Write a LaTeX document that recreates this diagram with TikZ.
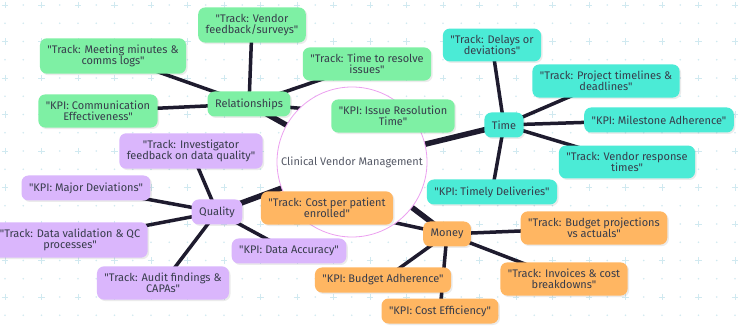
\documentclass[tikz,border=0pt]{standalone}
\usepackage{fontspec}
\setmainfont{Fira Sans}[Ligatures=TeXOff]
\usetikzlibrary{shadows}
\pgfdeclarelayer{gridlayer}
\pgfdeclarelayer{edgelayer}
\pgfsetlayers{gridlayer,edgelayer,main}
\definecolor{relc}{RGB}{126,240,164}
\definecolor{timec}{RGB}{75,235,214}
\definecolor{qualc}{RGB}{218,182,252}
\definecolor{monc}{RGB}{255,182,98}
\definecolor{edgec}{RGB}{30,27,46}
\definecolor{txtc}{RGB}{55,60,75}
\definecolor{gridc}{RGB}{208,233,240}
\definecolor{rootc}{RGB}{236,160,240}
\begin{document}
\begin{tikzpicture}[x=1pt,y=-1pt,
  box/.style={rounded corners=7pt, align=center, font=\fontsize{11}{11.5}\selectfont,
    text=txtc, inner xsep=7.5pt, inner ysep=6.5pt, minimum height=25pt,
    drop shadow={shadow xshift=1.5pt, shadow yshift=-1.5pt, fill=black, opacity=0.08}},
  rel/.style={box, fill=relc},
  tim/.style={box, fill=timec},
  qua/.style={box, fill=qualc},
  mon/.style={box, fill=monc},
  link/.style={draw=edgec, line width=3.5pt},
  trunk/.style={draw=edgec, line width=5.5pt},
  rootnode/.style={circle, draw=rootc, line width=0.8pt, fill=white, minimum size=150pt,
    font=\fontsize{11}{12}\selectfont, text=txtc!85}]
\useasboundingbox (0,0) rectangle (743,328);
% grid
\begin{pgfonlayer}{gridlayer}
\fill[white] (0,0) rectangle (743,328);
\foreach \i in {0,...,40}{
  \foreach \j in {0,...,17}{
    \pgfmathsetmacro{\gx}{5+18.25*\i}
    \pgfmathsetmacro{\gy}{5+18.25*\j}
    \pgfmathtruncatemacro{\odd}{mod(\i,2)+mod(\j,2)}
    \ifnum\odd=0
      \draw[gridc, line width=0.9pt] (\gx-3.2,\gy) -- (\gx+3.2,\gy) (\gx,\gy-3.2) -- (\gx,\gy+3.2);
    \else
      \fill[gridc] (\gx,\gy) circle (0.9);
    \fi
  }
}
\end{pgfonlayer}
% root
\node[rootnode] (root) at (352,162) {Clinical Vendor Management};
% branches
\node[rel] (rel) at (249,104) {Relationships};
\node[tim] (time) at (504,125) {Time};
\node[mon] (money) at (447,234) {Money};
\node[qua] (qual) at (217,212) {Quality};
% relationships children
\node[rel] (r1) at (252,25) {"Track: Vendor\\feedback/surveys"};
\node[rel] (r2) at (113,56) {"Track: Meeting minutes \&\\comms logs"};
\node[rel] (r3) at (98,111) {"KPI: Communication\\Effectiveness"};
\node[rel] (r4) at (367,64) {"Track: Time to resolve\\issues"};
\node[rel] (r5) at (393,116) {"KPI: Issue Resolution\\Time"};
% time children
\node[tim] (t1) at (492,45) {"Track: Delays or\\deviations"};
\node[tim] (t2) at (606,81) {"Track: Project timelines \&\\deadlines"};
\node[tim] (t3) at (659,120) {"KPI: Milestone Adherence"};
\node[tim] (t4) at (627,162) {"Track: Vendor response\\times"};
\node[tim] (t5) at (492,192) {"KPI: Timely Deliveries"};
% money children
\node[mon] (m1) at (594,228) {"Track: Budget projections\\vs actuals"};
\node[mon] (m2) at (564,279) {"Track: Invoices \& cost\\breakdowns"};
\node[mon] (m3) at (440,311) {"KPI: Cost Efficiency"};
\node[mon] (m4) at (383,280) {"KPI: Budget Adherence"};
\node[mon] (m5) at (327,208) {"Track: Cost per patient\\enrolled"};
% quality children
\node[qua] (q1) at (191,151) {"Track: Investigator\\feedback on data quality"};
\node[qua] (q2) at (86,188) {"KPI: Major Deviations"};
\node[qua] (q3) at (70,240) {"Track: Data validation \& QC\\processes"};
\node[qua] (q4) at (163,283) {"Track: Audit findings \&\\CAPAs"};
\node[qua] (q5) at (289,251) {"KPI: Data Accuracy"};
% edges
\begin{pgfonlayer}{edgelayer}
\foreach \b in {rel,time,money,qual} \draw[trunk] (root.center) -- (\b.center);
\foreach \c in {r1,r2,r3,r4,r5} \draw[link] (rel.center) -- (\c.center);
\foreach \c in {t1,t2,t3,t4,t5} \draw[link] (time.center) -- (\c.center);
\foreach \c in {m1,m2,m3,m4,m5} \draw[link] (money.center) -- (\c.center);
\foreach \c in {q1,q2,q3,q4,q5} \draw[link] (qual.center) -- (\c.center);
\end{pgfonlayer}
\end{tikzpicture}
\end{document}
